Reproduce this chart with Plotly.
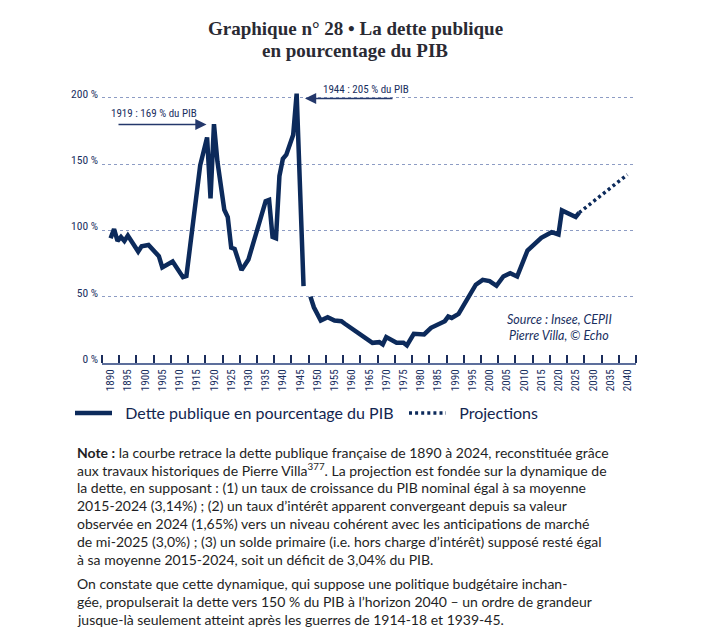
import plotly.graph_objects as go

# ---------------- data ----------------
years = [1890, 1891, 1892, 1893, 1894, 1895, 1898, 1899, 1901, 1904, 1905, 1908,
         1911, 1912, 1916, 1918, 1919, 1920, 1921, 1923, 1924, 1925, 1926, 1928,
         1930, 1935, 1936, 1937, 1938, 1939, 1940, 1941, 1943, 1944, 1946, 1947,
         1948, 1949, 1951, 1953, 1955, 1957, 1958, 1966, 1968, 1969, 1970, 1973,
         1975, 1976, 1978, 1981, 1983, 1987, 1988, 1989, 1991, 1996, 1998, 2000,
         2002, 2004, 2006, 2008, 2011, 2015, 2018, 2020, 2021, 2025, 2026]
debt = [94, 101, 92, 95, 92, 96, 84, 88, 89, 80.5, 72, 76.5,
        64.7, 65.5, 149, 170, 124, 180, 152, 115.5, 110, 87, 86, 70,
        78, 122, 123, 95, 94, 141, 154, 157, 172, 203, 58, None,
        50, 42, 32, 34.5, 32, 31.5, 29.6, 15.2, 15.7, 14, 19.5, 15.2,
        15.2, 13.2, 22, 21.5, 26.5, 31.5, 35, 34, 37, 59, 62.7, 61.7,
        58.2, 65.2, 67.7, 65.2, 84.8, 94.4, 98.6, 96.9, 115, 110, 113.3]

proj_years = [2026, 2030, 2035, 2040]
proj_vals = [113.3, 121.5, 131.5, 142]

x_tick_years = list(range(1890, 2041, 5))
y_tick_vals = [0, 50, 100, 150, 200]
y_tick_text = ["0 %", "50 %", "100 %", "150 %", "200 %"]

title_lines = ["Graphique n° 28 • La dette publique", "en pourcentage du PIB"]
series_names = ["Dette publique en pourcentage du PIB", "Projections"]
source_lines = ["Source : Insee, CEPII", "Pierre Villa, © Echo"]
callouts = ["1919 : 169 % du PIB", "1944 : 205 % du PIB"]

note_lines = [
    "<b>Note :</b> la courbe retrace la dette publique française de 1890 à 2024, reconstituée grâce",
    "aux travaux historiques de Pierre Villa<sup>377</sup>. La projection est fondée sur la dynamique de",
    "la dette, en supposant : (1) un taux de croissance du PIB nominal égal à sa moyenne",
    "2015-2024 (3,14%) ; (2) un taux d’intérêt apparent convergeant depuis sa valeur",
    "observée en 2024 (1,65%) vers un niveau cohérent avec les anticipations de marché",
    "de mi-2025 (3,0%) ; (3) un solde primaire (i.e. hors charge d’intérêt) supposé resté égal",
    "à sa moyenne 2015-2024, soit un déficit de 3,04% du PIB.",
]
note2_lines = [
    "On constate que cette dynamique, qui suppose une politique budgétaire inchan-",
    "gée, propulserait la dette vers 150 % du PIB à l’horizon 2040 – un ordre de grandeur",
    "jusque-là seulement atteint après les guerres de 1914-18 et 1939-45.",
]

# ---------------- layout geometry ----------------
W, H = 706, 638
ML, MR, MT, MB = 102, 70, 77, 275
PW, PH = W - ML - MR, H - MT - MB
X0, X1 = 1887.5, 2042.5
PX_PER_PCT = 1.3267
Y1 = PH / PX_PER_PCT

NAVY = "#0c2a5b"
TXT_NAVY = "#1a2f5f"
COND = "Liberation Sans Narrow, Roboto Condensed, Roboto, sans-serif"
BODY = "Lato, Open Sans, sans-serif"
NB = "\u00a0"


def px2x(px):
    return X0 + (px - ML) / PW * (X1 - X0)


def py2y(py):
    return (H - MB - py) / PX_PER_PCT


def py2paper(py):
    return (H - MB - py) / PH


def px2paper(px):
    return (px - ML) / PW


fig = go.Figure()
fig.add_trace(go.Scatter(
    x=years, y=debt, mode="lines", name=NB * 2 + series_names[0],
    line=dict(color=NAVY, width=4.5), connectgaps=False, legend="legend",
))
fig.add_trace(go.Scatter(
    x=proj_years, y=proj_vals, mode="lines", name=NB * 2 + series_names[1],
    line=dict(color=NAVY, width=3.5, dash="3px,3.1px"), legend="legend2",
))

ann = []
# title
for i, t in enumerate(title_lines):
    ann.append(dict(text=t, xref="paper", yref="paper", x=px2paper(355),
                    y=py2paper(28 + 22 * i), xanchor="center", yanchor="middle",
                    showarrow=False,
                    font=dict(family="Liberation Serif, DejaVu Serif, serif",
                              size=19, color="#2a2a33", weight="bold")))
# callout arrows
ann.append(dict(x=px2x(206.5), y=py2y(124.5), ax=px2x(117), ay=py2y(124.5),
                xref="x", yref="y", axref="x", ayref="y", text="", showarrow=True,
                arrowhead=2, arrowsize=1.4, arrowwidth=1.6, arrowcolor="#24386b"))
ann.append(dict(x=px2x(305), y=py2y(98.5), ax=px2x(394), ay=py2y(98.5),
                xref="x", yref="y", axref="x", ayref="y", text="", showarrow=True,
                arrowhead=2, arrowsize=1.4, arrowwidth=1.6, arrowcolor="#24386b"))
ann.append(dict(text=callouts[0], x=px2x(109), y=py2y(113), xref="x", yref="y",
                xanchor="left", yanchor="middle", showarrow=False,
                font=dict(family=COND, size=11, color=TXT_NAVY)))
ann.append(dict(text=callouts[1], x=px2x(321), y=py2y(89.5), xref="x", yref="y",
                xanchor="left", yanchor="middle", showarrow=False,
                font=dict(family=COND, size=11, color=TXT_NAVY)))
# source
for i, t in enumerate(source_lines):
    ann.append(dict(text=t, xref="paper", yref="paper", x=px2paper(559),
                    y=py2paper(319 + 16.5 * i), xanchor="center", yanchor="middle",
                    showarrow=False,
                    font=dict(family=BODY, size=12.5, color=TXT_NAVY, style="italic")))
# notes
for i, t in enumerate(note_lines):
    ann.append(dict(text=t, xref="paper", yref="paper", x=px2paper(75),
                    y=py2paper(452 + 17.9 * i), xanchor="left", yanchor="middle",
                    showarrow=False, font=dict(family=BODY, size=14, color="#1e1e24")))
for i, t in enumerate(note2_lines):
    ann.append(dict(text=t, xref="paper", yref="paper", x=px2paper(75),
                    y=py2paper(583 + 18 * i), xanchor="left", yanchor="middle",
                    showarrow=False, font=dict(family=BODY, size=14, color="#1e1e24")))

legend_common = dict(orientation="h", yanchor="middle", xanchor="left",
                     font=dict(family=BODY, size=16, color="#132650"),
                     itemwidth=37, bgcolor="rgba(0,0,0,0)")

fig.update_layout(
    width=W, height=H,
    margin=dict(l=ML, r=MR, t=MT, b=MB, autoexpand=False),
    paper_bgcolor="white", plot_bgcolor="white",
    showlegend=True,
    legend=dict(x=px2paper(70), y=py2paper(413), **legend_common),
    legend2=dict(x=px2paper(404), y=py2paper(413), **legend_common),
    annotations=ann,
    xaxis=dict(range=[X0, X1], tickmode="array", tickvals=x_tick_years,
               ticktext=[str(v) for v in x_tick_years], tickangle=-90,
               ticks="", showgrid=False, zeroline=False,
               showline=True, linecolor="#5d6f9c", linewidth=2,
               tickfont=dict(family=COND, size=11, color=TXT_NAVY),
               minor=dict(tick0=X0, dtick=5, ticks="inside", ticklen=8,
                          tickwidth=1.5, tickcolor="#1b2d5c", showgrid=False),
               fixedrange=True),
    yaxis=dict(range=[0, Y1], tickmode="array", tickvals=y_tick_vals, ticktext=y_tick_text,
               ticks="", showgrid=True, gridcolor="#8d9cc4", gridwidth=1, griddash="dot",
               zeroline=False, showline=False,
               tickfont=dict(family=COND, size=11.5, color=TXT_NAVY),
               ticklabelstandoff=3, ticklabelshift=-4, fixedrange=True),
)

fig.write_html("out.html")
